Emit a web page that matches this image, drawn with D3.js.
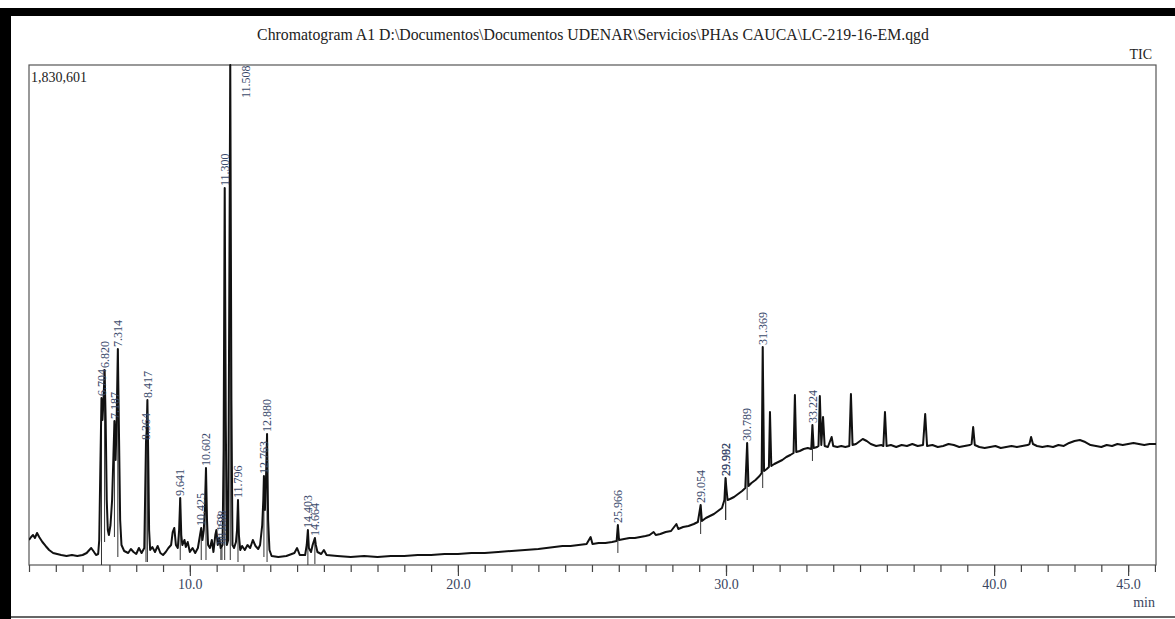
<!DOCTYPE html>
<html>
<head>
<meta charset="utf-8">
<script src="https://cdn.jsdelivr.net/npm/d3@7"></script>
<style>
  body { margin: 0; background: #fff; }
  svg text { font-family: "Liberation Serif", "Times New Roman", serif; }
</style>
</head>
<body>
<svg id="chart" width="1175" height="619"></svg>
<script>
// Total ion chromatogram: [retention time (min), intensity (counts)]
const ticTrace = [
  [4.00, 91500], [4.08, 102500], [4.15, 109800], [4.22, 98900], [4.30, 117200], [4.38, 102500],
  [4.50, 84200], [4.62, 69600], [4.75, 54900], [4.90, 43900], [5.05, 40300], [5.20, 36600],
  [5.40, 33000], [5.60, 36600], [5.80, 33000], [6.00, 36600], [6.15, 43900], [6.25, 54900],
  [6.32, 62200], [6.40, 51300], [6.50, 36600], [6.58, 40300], [6.62, 91500], [6.66, 347800],
  [6.704, 611400], [6.74, 530900], [6.78, 604100], [6.82, 713900], [6.86, 530900], [6.90, 238000],
  [6.94, 128100], [6.98, 109800], [7.04, 146400], [7.10, 238000], [7.15, 402700], [7.187, 527200],
  [7.23, 384400], [7.27, 530900], [7.314, 790800], [7.36, 457700], [7.40, 164800], [7.45, 73200],
  [7.55, 51300], [7.70, 43900], [7.80, 58600], [7.90, 47600], [8.00, 40300], [8.10, 62200],
  [8.20, 43900], [8.30, 62200], [8.33, 238000], [8.364, 450300], [8.39, 494300], [8.417, 604100],
  [8.45, 384400], [8.48, 128100], [8.52, 54900], [8.60, 65900], [8.70, 47600], [8.80, 69600],
  [8.90, 43900], [9.00, 36600], [9.10, 47600], [9.20, 62200], [9.30, 73200], [9.36, 120800],
  [9.42, 135500], [9.48, 73200], [9.55, 62200], [9.60, 128100], [9.641, 245300], [9.68, 109800],
  [9.72, 73200], [9.80, 91500], [9.85, 65900], [9.92, 84200], [10.00, 47600], [10.10, 62200],
  [10.20, 43900], [10.30, 62200], [10.38, 109800], [10.425, 135500], [10.47, 91500], [10.52, 128100],
  [10.56, 201400], [10.602, 355100], [10.64, 164800], [10.68, 73200], [10.75, 62200], [10.82, 91500],
  [10.88, 47600], [10.95, 109800], [10.99, 128100], [11.04, 73200], [11.10, 98900], [11.15, 62200],
  [11.22, 73200], [11.26, 421000], [11.30, 1380300], [11.34, 530900], [11.38, 73200], [11.43, 91500],
  [11.47, 970200], [11.508, 1830601], [11.55, 604100], [11.59, 73200], [11.65, 62200], [11.72, 84200],
  [11.76, 128100], [11.796, 238000], [11.83, 109800], [11.88, 54900], [11.95, 69600], [12.05, 54900],
  [12.15, 73200], [12.25, 62200], [12.35, 91500], [12.45, 69600], [12.55, 58600], [12.62, 73200],
  [12.70, 146400], [12.74, 238000], [12.763, 325800], [12.80, 201400], [12.84, 311200], [12.88, 479600],
  [12.92, 164800], [12.97, 54900], [13.05, 33000], [13.30, 29300], [13.60, 33000], [13.90, 43900],
  [14.00, 62200], [14.10, 36600], [14.30, 36600], [14.36, 73200], [14.403, 128100], [14.44, 62200],
  [14.52, 47600], [14.58, 73200], [14.664, 98900], [14.70, 73200], [14.76, 47600], [14.90, 40300],
  [15.00, 54900], [15.10, 36600], [15.50, 33000], [16.00, 29300], [16.50, 33000], [17.00, 29300],
  [17.50, 33000], [18.00, 33000], [18.50, 36600], [19.00, 36600], [19.50, 40300], [20.00, 40300],
  [20.50, 43900], [21.00, 43900], [21.50, 47600], [22.00, 51300], [22.50, 54900], [23.00, 58600],
  [23.30, 62200], [23.60, 65900], [23.90, 69600], [24.20, 69600], [24.50, 73200], [24.80, 76900],
  [24.95, 102500], [25.02, 76900], [25.25, 80500], [25.50, 80500], [25.75, 84200], [25.92, 87900],
  [25.966, 146400], [26.01, 91500], [26.20, 95200], [26.40, 98900], [26.60, 98900], [26.80, 102500],
  [27.00, 106200], [27.15, 109800], [27.30, 120800], [27.38, 109800], [27.55, 113500], [27.75, 120800],
  [27.95, 124500], [28.15, 150100], [28.22, 131800], [28.40, 139100], [28.60, 142800], [28.80, 150100],
  [28.95, 157400], [29.054, 219700], [29.10, 161100], [29.25, 172100], [29.40, 179400], [29.55, 186700],
  [29.70, 197700], [29.85, 208700], [29.94, 238000], [29.982, 318500], [30.02, 274600], [30.06, 238000],
  [30.15, 241600], [30.30, 249000], [30.45, 259900], [30.60, 270900], [30.72, 281900], [30.789, 446700],
  [30.84, 289200], [30.95, 300200], [31.10, 311200], [31.25, 325800], [31.33, 336800], [31.369, 798100],
  [31.42, 344200], [31.52, 351500], [31.60, 358800], [31.64, 560200], [31.69, 362500], [31.80, 369800],
  [31.95, 377100], [32.10, 384400], [32.25, 395400], [32.40, 402700], [32.52, 410100], [32.57, 622400],
  [32.62, 413700], [32.75, 417400], [32.90, 424700], [33.05, 428400], [33.18, 424700], [33.224, 512600],
  [33.27, 428400], [33.40, 432000], [33.45, 435700], [33.50, 618700], [33.555, 439300], [33.62, 541900],
  [33.68, 435700], [33.80, 432000], [33.94, 468600], [34.00, 435700], [34.15, 432000], [34.30, 435700],
  [34.45, 432000], [34.60, 435700], [34.66, 626100], [34.72, 439300], [34.85, 443000], [35.00, 454000],
  [35.10, 461300], [35.25, 454000], [35.40, 443000], [35.60, 435700], [35.80, 439300], [35.87, 435700],
  [35.93, 560200], [35.99, 435700], [36.15, 439300], [36.35, 432000], [36.55, 439300], [36.75, 435700],
  [36.95, 443000], [37.15, 435700], [37.35, 439300], [37.43, 552800], [37.50, 435700], [37.70, 439300],
  [37.90, 432000], [38.10, 435700], [38.30, 443000], [38.50, 439300], [38.70, 432000], [38.90, 435700],
  [39.10, 439300], [39.16, 443000], [39.22, 505200], [39.28, 439300], [39.45, 432000], [39.65, 428400],
  [39.85, 432000], [40.05, 435700], [40.25, 428400], [40.45, 432000], [40.65, 435700], [40.85, 432000],
  [41.05, 435700], [41.25, 439300], [41.32, 443000], [41.38, 468600], [41.45, 443000], [41.60, 435700],
  [41.80, 432000], [42.00, 435700], [42.20, 432000], [42.40, 439300], [42.60, 435700], [42.80, 446700],
  [43.00, 454000], [43.20, 457700], [43.40, 450300], [43.60, 439300], [43.80, 435700], [44.00, 432000],
  [44.20, 439300], [44.40, 435700], [44.60, 443000], [44.80, 439300], [45.00, 443000], [45.20, 446700],
  [45.40, 443000], [45.60, 439300], [45.80, 443000], [46.04, 443000]
];

// Integrated peak retention times, as printed above each peak
const peakLabels = [
  "6.704", "6.820", "7.187", "7.314", "8.364", "8.417", "9.641", "10.425", "10.602",
  "11.158", "11.198", "11.300", "11.508", "11.796", "12.763", "12.880", "14.403", "14.664",
  "25.966", "29.054", "29.982", "29.992", "30.789", "31.369", "33.224"
];

const minorTicks = d3.range(4, 47);
const majorTicks = [10, 20, 30, 40, 45];
const intensityMax = 1830601;

const titleText = "Chromatogram A1 D:\\Documentos\\Documentos UDENAR\\Servicios\\PHAs CAUCA\\LC-219-16-EM.qgd";
const channelText = "TIC";
const unitText = "min";

const trace = ticTrace;

const svg = d3.select("#chart");
const W = 1175, H = 619;
const plot = { left: 29, top: 65, right: 1156, bottom: 565 };

// page frame: heavy black top and left bands, thin bottom rule
svg.append("rect").attr("x", 0).attr("y", 8).attr("width", W).attr("height", 8).attr("fill", "#000");
svg.append("rect").attr("x", 0).attr("y", 8).attr("width", 11).attr("height", H - 8).attr("fill", "#000");
svg.append("line").attr("x1", 11).attr("x2", W).attr("y1", 617).attr("y2", 617)
  .attr("stroke", "#333").attr("stroke-width", 1.5);

const x = d3.scaleLinear().domain([4.0, 46.04]).range([plot.left, plot.right]);
const y = d3.scaleLinear().domain([0, intensityMax]).range([plot.bottom, plot.top]);

// title and corner labels
svg.append("text").attr("x", 593).attr("y", 40).attr("text-anchor", "middle")
  .attr("font-size", 15.8).attr("fill", "#222").text(titleText);
svg.append("text").attr("x", 1152).attr("y", 59).attr("text-anchor", "end")
  .attr("font-size", 14).attr("fill", "#222").text(channelText);
svg.append("text").attr("x", plot.left + 2).attr("y", 82)
  .attr("font-size", 14).attr("fill", "#222").text(d3.format(",")(intensityMax));
svg.append("text").attr("x", 1155).attr("y", 607).attr("text-anchor", "end")
  .attr("font-size", 14).attr("fill", "#3a4560").text(unitText);

// plot frame
svg.append("rect").attr("x", plot.left).attr("y", plot.top)
  .attr("width", plot.right - plot.left).attr("height", plot.bottom - plot.top)
  .attr("fill", "none").attr("stroke", "#555").attr("stroke-width", 1.2);

// time axis: minor ticks every minute, labelled major ticks
const axMinor = svg.append("g").attr("transform", `translate(0,${plot.bottom})`)
  .call(d3.axisBottom(x).tickValues(minorTicks).tickSize(7).tickFormat(""));
const axMajor = svg.append("g").attr("transform", `translate(0,${plot.bottom})`)
  .call(d3.axisBottom(x).tickValues(majorTicks).tickSize(11).tickPadding(3).tickFormat(d3.format(".1f")));
[axMinor, axMajor].forEach(g => {
  g.select(".domain").remove();
  g.selectAll(".tick line").attr("stroke", "#444").attr("stroke-width", 1.2);
});
axMajor.selectAll(".tick text").attr("font-size", 14).attr("fill", "#3a4560")
  .attr("font-family", "Liberation Serif, serif");

// clip the trace to the plot frame
svg.append("clipPath").attr("id", "plotClip").append("rect")
  .attr("x", plot.left).attr("y", plot.top - 1)
  .attr("width", plot.right - plot.left).attr("height", plot.bottom - plot.top + 1);

const line = d3.line().x(d => x(d[0])).y(d => y(d[1]));

// peak top markers: drop line from apex to just below the local baseline
const peaks = peakLabels.map(lbl => {
  const t = +lbl;
  const near = trace.filter(d => Math.abs(d[0] - t) <= 0.16);
  const apex = near.reduce((a, b) => Math.abs(b[0] - t) < Math.abs(a[0] - t) ? b : a);
  const base = d3.min(near, d => d[1]);
  return { label: lbl, t, top: apex[1], base };
});

svg.append("g").attr("clip-path", "url(#plotClip)")
  .selectAll("line").data(peaks).join("line")
  .attr("x1", d => x(d.t)).attr("x2", d => x(d.t))
  .attr("y1", d => y(d.top)).attr("y2", d => y(d.base) + 12)
  .attr("stroke", "#333").attr("stroke-width", 1);

svg.append("path").datum(trace)
  .attr("clip-path", "url(#plotClip)")
  .attr("fill", "none").attr("stroke", "#111").attr("stroke-width", 2)
  .attr("stroke-linejoin", "round").attr("d", line);

// rotated retention-time labels above each apex
svg.append("g").selectAll("text").data(peaks).join("text")
  .attr("transform", d => {
    const px = x(d.t), py = y(d.top);
    if (py - 36 < plot.top) return `translate(${px + 16},${plot.top + 33}) rotate(-90)`;
    return `translate(${px},${py - 2}) rotate(-90)`;
  })
  .attr("dy", "0.35em")
  .attr("font-size", 12).attr("fill", "#3b4a6b")
  .text(d => d.label);
</script>
</body>
</html>
